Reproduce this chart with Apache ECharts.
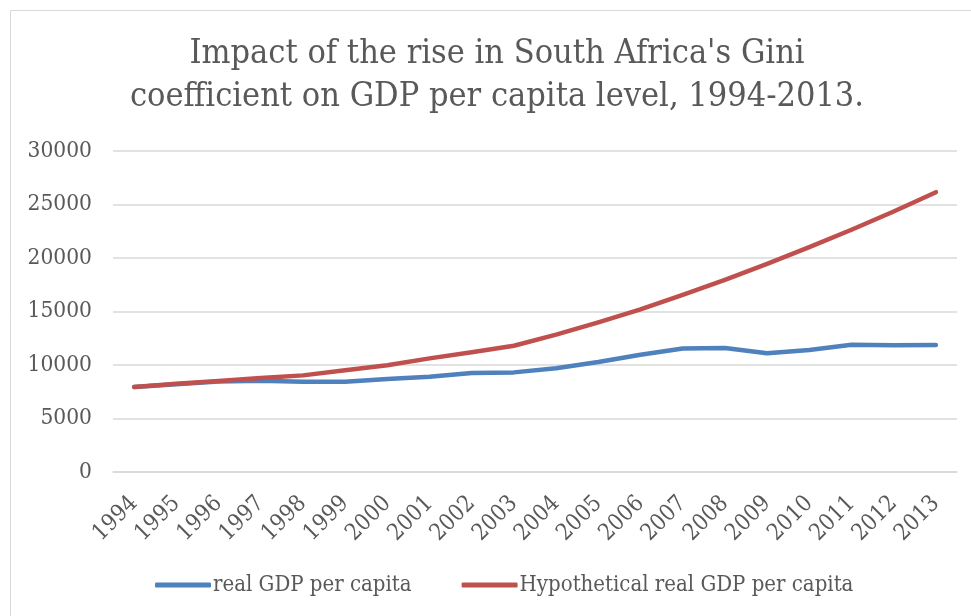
<!DOCTYPE html>
<html>
<head>
<meta charset="utf-8">
<script src="https://cdn.jsdelivr.net/npm/echarts@6/dist/echarts.min.js"></script>
<style>
  html, body { margin: 0; padding: 0; background: #ffffff; }
  #chart { width: 971px; height: 616px; }
</style>
</head>
<body>
<div id="chart"></div>
<script>
// Years on the category axis
const years = ['1994','1995','1996','1997','1998','1999','2000','2001','2002','2003',
               '2004','2005','2006','2007','2008','2009','2010','2011','2012','2013'];

// Actual real GDP per capita
const realGdp = [7950, 8200, 8450, 8530, 8430, 8430, 8700, 8900, 9250, 9310,
                 9700, 10280, 10960, 11550, 11590, 11090, 11400, 11900, 11840, 11870];

// Counterfactual path without the rise in the Gini coefficient
const hypotheticalGdp = [7950, 8250, 8500, 8780, 9030, 9510, 9980, 10620, 11200, 11800,
                         12840, 13990, 15200, 16550, 17960, 19460, 21010, 22640, 24350, 26150];

const yTicks = { min: 0, max: 30000, interval: 5000 };

const FONT = '"DejaVu Serif Condensed", "Liberation Serif", serif';
const TEXT = '#595959';

const chart = echarts.init(document.getElementById('chart'), null, { renderer: 'canvas' });

chart.setOption({
  backgroundColor: '#ffffff',
  animation: false,
  graphic: [{
    type: 'rect',
    shape: { x: 10.5, y: 10.5, width: 980, height: 640 },
    style: { fill: 'none', stroke: '#d9d9d9', lineWidth: 1 },
    silent: true
  }],
  title: {
    text: "Impact of the rise in South Africa's Gini\ncoefficient on GDP per capita level, 1994-2013.",
    left: 492,
    textAlign: 'center',
    top: 28,
    textStyle: {
      fontFamily: FONT,
      fontSize: 34,
      fontWeight: 'normal',
      color: TEXT,
      lineHeight: 43
    }
  },
  legend: {
    bottom: 15,
    left: 150,
    itemWidth: 56,
    itemHeight: 5,
    itemGap: 50,
    icon: 'roundRect',
    textStyle: { fontFamily: FONT, fontSize: 22, color: TEXT, padding: [0, 0, 0, -3] },
    data: ['real GDP per capita', 'Hypothetical real GDP per capita']
  },
  grid: { left: 113, right: 14, top: 151, bottom: 144 },
  xAxis: {
    type: 'category',
    data: years,
    boundaryGap: true,
    axisLine: { lineStyle: { color: '#d9d9d9', width: 1.5 } },
    axisTick: { show: false },
    axisLabel: {
      rotate: 45,
      interval: 0,
      margin: 28,
      fontFamily: FONT,
      fontSize: 23,
      color: TEXT
    }
  },
  yAxis: {
    type: 'value',
    min: yTicks.min,
    max: yTicks.max,
    interval: yTicks.interval,
    axisLine: { show: false },
    axisTick: { show: false },
    splitLine: { lineStyle: { color: '#d9d9d9', width: 1.5 } },
    axisLabel: {
      margin: 21,
      fontFamily: FONT,
      fontSize: 22.5,
      color: TEXT,
      formatter: (v) => String(v)
    }
  },
  series: [
    {
      name: 'real GDP per capita',
      type: 'line',
      data: realGdp,
      symbol: 'none',
      lineStyle: { color: '#4F81BD', width: 4.5, cap: 'round', join: 'round' },
      itemStyle: { color: '#4F81BD' }
    },
    {
      name: 'Hypothetical real GDP per capita',
      type: 'line',
      data: hypotheticalGdp,
      symbol: 'none',
      lineStyle: { color: '#C0504D', width: 4.5, cap: 'round', join: 'round' },
      itemStyle: { color: '#C0504D' }
    }
  ]
});
</script>
</body>
</html>
